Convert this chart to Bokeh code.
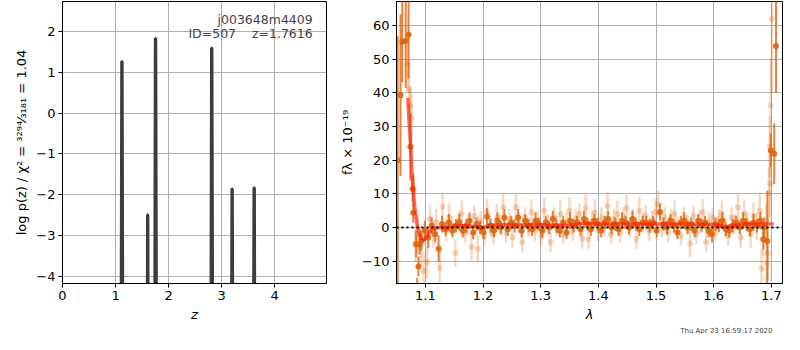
from bokeh.plotting import figure
from bokeh.layouts import row
from bokeh.models import Label, Span, FixedTicker, ColumnDataSource, Title
from bokeh.embed import file_html
from bokeh.resources import INLINE

# ---------------- p(z) panel data ----------------
z_grid = [0.0, 1.095, 1.117, 1.125, 1.150,
          1.585, 1.604, 1.610, 1.630,
          1.730, 1.751, 1.759, 1.785,
          2.790, 2.811, 2.819, 2.845,
          3.175, 3.196, 3.204, 3.225,
          3.585, 3.612, 3.620, 3.640, 4.98]
log_pz = [-12.0, -12.0, 1.27, 1.27, -12.0,
          -12.0, -2.49, -2.49, -12.0,
          -12.0, 1.83, 1.83, -12.0,
          -12.0, 1.60, 1.60, -12.0,
          -12.0, -1.86, -1.86, -12.0,
          -12.0, -1.83, -1.83, -12.0, -12.0]
pz_xticks = [0, 1, 2, 3, 4]
pz_yticks = [-4, -3, -2, -1, 0, 1, 2]

# ---------------- spectrum panel data (wavelength in 1e-3 micron) ----------------
light_wl = [1069, 1072, 1074, 1076, 1080, 1083, 1087,
            1092, 1097, 1103, 1108, 1114, 1119, 1125, 1130, 1136, 1141,
            1147, 1152, 1158, 1163, 1169, 1174, 1180, 1185, 1191, 1196,
            1202, 1207, 1213, 1218, 1224, 1229, 1235, 1240, 1246, 1251,
            1257, 1262, 1268, 1273, 1279, 1284, 1290, 1295, 1301, 1306,
            1312, 1317, 1323, 1328, 1334, 1339, 1345, 1350, 1356, 1361,
            1367, 1372, 1378, 1383, 1389, 1394, 1400, 1405, 1411, 1416,
            1422, 1427, 1433, 1438, 1444, 1449, 1455, 1460, 1466, 1471,
            1477, 1482, 1488, 1493, 1499, 1504, 1510, 1515, 1521, 1526,
            1532, 1537, 1543, 1548, 1554, 1559, 1565, 1570, 1576, 1581,
            1587, 1592, 1598, 1603, 1609, 1614, 1620, 1625, 1631, 1636,
            1642, 1647, 1653, 1658, 1664, 1669, 1675, 1680, 1686, 1691,
            1683, 1692, 1694, 1696, 1697, 1698, 1699, 1701]
light_flux = [48.6, 40.9, 36.0, 32.5, 11.0, -5.3, -2.0,
              -5.5, -13.0, -10.3, 2.5, -2.0, 1.5, -12.0, 6.2, -1.0, 3.0,
              0.5, -7.6, 2.0, 4.0, -1.5, 1.0, -5.8, 3.5, -6.3, 2.0,
              -2.5, 4.5, 0.5, -2.0, 3.0, 1.0, 6.0, -1.5, 2.5, -3.0,
              6.0, 1.5, -4.4, 3.0, 0.0, 4.5, -1.0, 2.0, -2.5, 5.0,
              1.0, -4.4, 3.0, 0.5, 4.0, -2.0, 1.5, 5.0, -1.0, 2.5,
              4.0, -3.3, 5.9, -3.5, 2.0, 4.5, -1.0, 3.0, 0.5, 6.4,
              -2.0, 2.5, 4.0, -1.5, 3.0, 5.8, 0.0, 2.5, -3.4, 5.0,
              1.5, 3.5, -1.0, 2.0, 4.5, 6.9, 0.0, 3.0, -1.5, 2.5,
              4.0, 0.5, -2.5, 3.0, 1.0, -4.8, 3.5, -2.0, 2.0, 4.5,
              -4.3, 1.5, 3.0, -1.0, 2.5, 4.0, 0.0, -2.5, 3.0, 1.0,
              6.0, -3.0, 4.0, 1.5, -2.0, 3.5, 0.5, 5.0, -3.5, 2.0,
              -12.3, -10.6, -7.6, 10.0, 24.0, 13.0, 36.3, 62.0]
light_err = [8, 8, 6, 7, 5, 5, 6,
             6, 6, 5, 4, 4, 4, 5, 4, 3, 4,
             3, 4, 3, 4, 3, 3, 4, 3, 4, 3,
             3, 4, 3, 3, 4, 3, 4, 3, 3, 3,
             4, 3, 3, 3, 3, 4, 3, 3, 3, 4,
             3, 3, 3, 3, 4, 3, 3, 4, 3, 3,
             3, 3, 4, 3, 3, 4, 3, 3, 3, 4,
             3, 3, 4, 3, 3, 4, 3, 3, 3, 4,
             3, 3, 3, 3, 4, 4, 3, 3, 3, 3,
             4, 3, 3, 3, 3, 4, 3, 3, 3, 4,
             3, 3, 3, 3, 3, 4, 3, 3, 3, 3,
             4, 3, 4, 3, 4, 4, 4, 5, 5, 5,
             6, 7, 8, 8, 9, 10, 14, 22]

dark_wl = [1052, 1057, 1060, 1066, 1071, 1074, 1078, 1079, 1084, 1086, 1088, 1090,
           1093, 1099, 1105, 1111, 1117, 1123, 1129, 1135, 1141, 1147,
           1153, 1159, 1165, 1171, 1177, 1183, 1189, 1195, 1201, 1207,
           1213, 1219, 1225, 1231, 1237, 1243, 1249, 1255, 1261, 1267,
           1273, 1279, 1285, 1291, 1297, 1303, 1309, 1315, 1321, 1327,
           1333, 1339, 1345, 1351, 1357, 1363, 1369, 1375, 1381, 1387,
           1393, 1399, 1405, 1411, 1417, 1423, 1429, 1435, 1441, 1447,
           1453, 1459, 1465, 1471, 1477, 1483, 1489, 1495, 1501, 1507,
           1513, 1519, 1525, 1531, 1537, 1543, 1549, 1555, 1561, 1567,
           1573, 1579, 1585, 1591, 1597, 1603, 1609, 1615, 1621, 1627,
           1633, 1639, 1645, 1651, 1657, 1663, 1669, 1675, 1681, 1687,
           1686, 1693, 1699, 1705, 1708]
dark_flux = [20.0, 39.3, 55.2, 55.5, 57.3, 24.0, 11.5, 4.4, -4.9, -19.0, -11.6, -5.0,
             -4.0, -1.0, -3.0, 0.5, -2.0, -6.3, 1.0, -0.5, 1.5, -1.0,
             0.5, 1.5, -1.0, 0.5, 2.0, -1.5, 1.0, 0.0, -1.5, 3.2,
             0.5, -1.0, 2.0, 0.0, 3.0, -0.5, 1.5, 0.5, 3.0, -1.0,
             2.0, 0.5, -0.5, 2.0, 1.0, -1.0, 1.5, 0.0, 2.5, 0.5,
             -1.0, 1.5, -1.5, 2.0, 0.5, 1.5, -0.5, 2.5, 1.0, -0.5,
             2.0, 1.0, -1.0, 1.5, 2.5, 0.0, 1.0, -0.5, 2.0, 1.5,
             0.0, 2.5, 1.0, -0.5, 1.5, 1.5, 0.5, 1.5, -1.0, 4.6,
             1.0, 0.0, 2.0, 0.5, -1.5, 1.5, 2.0, 0.0, 1.0, -1.0,
             2.0, 0.5, 1.5, -1.0, -2.0, 1.0, 0.5, 2.0, -0.5, -1.0,
             0.5, 1.5, 0.0, 2.0, 1.0, -0.5, 1.5, 0.5, 2.0, 0.0,
             -3.5, -4.0, 22.9, 21.9, 54.0]
dark_err = [37, 24, 12, 14, 13, 10, 4, 3, 4, 4, 3, 3,
            3, 3, 3, 2.5, 2.5, 4, 2.5, 2, 2.5, 2,
            2, 2.5, 2, 2, 2.5, 2, 2, 2, 2, 2.5,
            2, 2, 2.5, 2, 2.5, 2, 2, 2, 2.5, 2,
            2, 2, 2, 2.5, 2, 2, 2, 2, 2.5, 2,
            2, 2, 2, 2.5, 2, 2, 2, 2.5, 2, 2,
            2, 2, 2, 2, 2.5, 2, 2, 2, 2.5, 2,
            2, 2.5, 2, 2, 2, 2, 2, 2, 2, 2.5,
            2, 2, 2, 2, 2, 2, 2.5, 2, 2, 2,
            2, 2, 2, 2, 2.5, 2, 2, 2.5, 2, 2,
            2, 2, 2, 2.5, 2, 2, 2.5, 2, 2.5, 3,
            3, 15, 5, 9, 14]

model_wl = [1069.5, 1072, 1074.4, 1077, 1080, 1083, 1086, 1090, 1094, 1097.6,
            1101, 1106, 1112, 1120, 1130, 1140, 1150, 1160, 1170, 1180,
            1190, 1198, 1205, 1212, 1230, 1260, 1300, 1340, 1360, 1375,
            1385, 1400, 1450, 1500, 1550, 1600, 1615, 1625, 1635, 1650,
            1680, 1704]
model_flux = [38.5, 31.0, 24.5, 16.0, 9.0, 4.0, 0.5, -2.0, -3.4, -3.8,
              -3.0, -1.5, -0.6, -0.1, 0.0, 0.1, 0.4, 0.5, 0.5, 0.4,
              0.2, -0.3, 0.2, 0.7, 0.8, 0.7, 0.8, 0.6, 0.9, 1.3,
              1.2, 1.0, 1.0, 1.0, 1.0, 0.9, 0.5, 0.1, 0.6, 1.0,
              1.0, 1.1]

sp_xticks = [1.1, 1.2, 1.3, 1.4, 1.5, 1.6, 1.7]
sp_yticks = [-10, 0, 10, 20, 30, 40, 50, 60]

ORANGE = "#e0650c"
FONT = "DejaVu Sans"
H = 334
BOTTOM = 50


def style(p):
    p.outline_line_color = "black"
    p.outline_line_width = 1
    p.background_fill_color = "white"
    p.border_fill_color = "white"
    for g in (p.xgrid[0], p.ygrid[0]):
        g.grid_line_color = "#b0b0b0"
        g.grid_line_width = 1
    for ax in (p.xaxis[0], p.yaxis[0]):
        ax.axis_line_color = "black"
        ax.major_tick_line_color = "black"
        ax.major_tick_in = 0
        ax.major_tick_out = 4
        ax.minor_tick_line_color = None
        ax.major_label_text_font = FONT
        ax.major_label_text_font_size = "13px"
        ax.major_label_text_color = "black"
        ax.axis_label_text_font = FONT
        ax.axis_label_text_font_size = "13px"
        ax.axis_label_text_font_style = "normal"
        ax.axis_label_text_color = "black"
        ax.major_label_standoff = 3
        ax.axis_label_standoff = 4


def minus(vals):
    return {v: (("\u2212" + str(abs(v))) if v < 0 else str(v)) for v in vals}


# ---------------- left panel ----------------
p1 = figure(width=334, height=H, x_range=(0, 4.98), y_range=(-4.18, 2.74),
            output_backend="svg", toolbar_location=None,
            min_border_left=62, min_border_right=8, min_border_top=1,
            min_border_bottom=BOTTOM)
style(p1)
p1.line(z_grid, log_pz, line_color="#3c3c3c", line_width=3)
p1.xaxis.ticker = FixedTicker(ticks=pz_xticks)
p1.yaxis.ticker = FixedTicker(ticks=pz_yticks)
p1.yaxis.major_label_overrides = minus(pz_yticks)
p1.xaxis.axis_label = "z"
p1.xaxis.axis_label_text_font_style = "italic"
p1.yaxis.axis_label = "log p(z) / \u03c7\u00b2 = \u00b3\u00b2\u2079\u2074\u2044\u2083\u2081\u2088\u2081 = 1.04"
p1.add_layout(Label(x=4.72, y=2.30, text="j003648m4409", text_align="right",
                    text_baseline="middle", text_font=FONT, text_font_size="12.5px"))
p1.add_layout(Label(x=4.72, y=1.96, text="ID=507\u00a0\u00a0\u00a0\u00a0z=1.7616",
                    text_align="right", text_baseline="middle", text_font=FONT,
                    text_font_size="12.5px"))

# ---------------- right panel ----------------
lw = [v / 1000 for v in light_wl]
dw = [v / 1000 for v in dark_wl]
mw = [v / 1000 for v in model_wl]
light = ColumnDataSource(dict(x=lw, y=light_flux,
                              lo=[f - e for f, e in zip(light_flux, light_err)],
                              hi=[f + e for f, e in zip(light_flux, light_err)]))
dark = ColumnDataSource(dict(x=dw, y=dark_flux,
                             lo=[f - e for f, e in zip(dark_flux, dark_err)],
                             hi=[f + e for f, e in zip(dark_flux, dark_err)]))

p2 = figure(width=450, height=H, x_range=(1.050, 1.7193), y_range=(-16.66, 67.2),
            output_backend="svg", toolbar_location=None,
            min_border_left=62, min_border_right=2, min_border_top=1,
            min_border_bottom=BOTTOM)
style(p2)
p2.segment(x0="x", y0="lo", x1="x", y1="hi", source=light, line_color=ORANGE,
           line_alpha=0.25, line_width=2.5)
p2.scatter(x="x", y="y", source=light, size=6, fill_color=ORANGE, fill_alpha=0.25,
           line_color=None)
p2.segment(x0="x", y0="lo", x1="x", y1="hi", source=dark, line_color=ORANGE,
           line_alpha=0.8, line_width=2)
p2.scatter(x="x", y="y", source=dark, size=6, fill_color=ORANGE, fill_alpha=0.9,
           line_color=None)
p2.line(mw, model_flux, line_color="#ff1a00", line_alpha=0.65, line_width=3.5)
p2.add_layout(Span(location=0, dimension="width", line_color="black",
                   line_dash="2 3", line_width=2))
p2.xaxis.ticker = FixedTicker(ticks=sp_xticks)
p2.yaxis.ticker = FixedTicker(ticks=sp_yticks)
p2.yaxis.major_label_overrides = minus(sp_yticks)
p2.xaxis.axis_label = "\u03bb"
p2.xaxis.axis_label_text_font_style = "italic"
p2.yaxis.axis_label = "f\u03bb \u00d7 10\u207b\u00b9\u2079"
p2.add_layout(Title(text="Thu Apr 23 16:59:17 2020", align="right",
                    text_font=FONT, text_font_size="7px", text_font_style="normal",
                    standoff=0, offset=10), "below")

layout = row(p1, p2)
open("out.html", "w").write(file_html(layout, INLINE))
